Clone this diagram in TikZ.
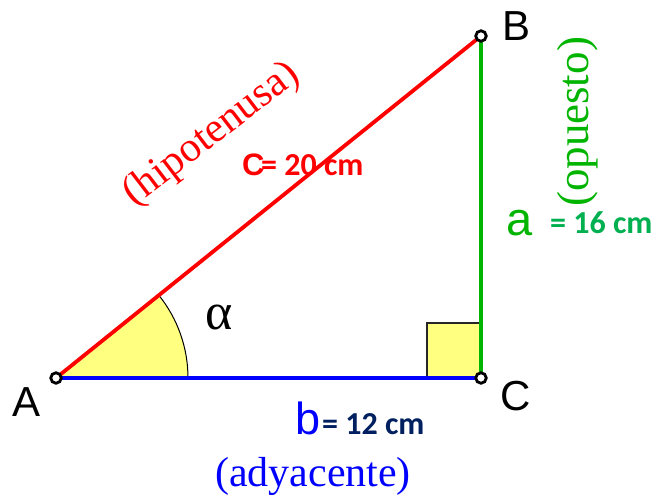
\documentclass[tikz,border=0pt]{standalone}
\usepackage{fontspec}
\setmainfont{Liberation Serif}
\newfontfamily\arialfont{Liberation Sans}
\newfontfamily\calibrifont{Carlito}
\usepackage{tikz}
\usetikzlibrary{positioning, calc}

\definecolor{hipred}{RGB}{255,0,0}
\definecolor{opgreen}{RGB}{0,180,0}
\definecolor{valgreen}{RGB}{0,176,80}
\definecolor{adblue}{RGB}{0,0,255}
\definecolor{valnavy}{RGB}{0,32,96}
\definecolor{angyellow}{RGB}{255,255,128}

\begin{document}
\begin{tikzpicture}[x=1pt, y=1pt,
    side/.style={line width=3.8pt},
    vertex/.style={circle, draw=black, fill=white, line width=2.8pt, inner sep=0pt, minimum size=10.5pt},
    letter/.style={font=\arialfont\fontsize{42}{42}\selectfont},
    role/.style={font=\fontsize{42}{42}\selectfont},
    value/.style={font=\calibrifont\bfseries\fontsize{32}{32}\selectfont, anchor=base west, inner sep=0pt}]
    \useasboundingbox (0,0) rectangle (652,499);

    % Vertices of the triangle
    \coordinate (A) at (56,121);
    \coordinate (B) at (481,463);
    \coordinate (C) at (481,121);

    % Angle alpha (yellow sector) and right angle square
    \fill[angyellow] (A) -- ++(0:132) arc (0:38.82:132) -- cycle;
    \draw[line width=1pt] ($(A)+(0:132)$) arc (0:38.82:132);
    \filldraw[fill=angyellow, draw=black!85, line width=1.3pt] ($(C)+(-54,0)$) rectangle ($(C)+(0,55)$);

    % Sides
    \draw[side, hipred] (A) -- (B);
    \draw[side, opgreen] (C) -- (B);
    \draw[side, adblue] (A) -- (C);

    % Vertex dots
    \node[vertex] at (A) {};
    \node[vertex] at (B) {};
    \node[vertex] at (C) {};

    % Vertex letters
    \node[letter] (labA) at (27,97) {A};
    \node[letter] (labB) at (516,473) {B};
    \node[letter] (labC) at (516,103) {C};
    \node[font=\fontsize{52}{52}\selectfont] (alpha) at (219,182) {α};

    % Hypotenuse c
    \node[role, hipred, rotate=37.5] (hipo) at (212,364) {(hipotenusa)};
    \node[anchor=base west, inner sep=0pt, hipred, font=\arialfont\bfseries\fontsize{31}{31}\selectfont] (cc) at (242,324) {C};
    \node[value, hipred] (cval) at (261,324) {= 20 cm};

    % Opposite side a
    \node[role, opgreen, rotate=90, font=\fontsize{45}{45}\selectfont] (opu) at (578,377) {(opuesto)};
    \node[anchor=base west, inner sep=0pt, opgreen, font=\arialfont\fontsize{47}{47}\selectfont] (aa) at (506,264) {a};
    \node[value, valgreen] (aval) at (550,266) {= 16 cm};

    % Adjacent side b
    \node[anchor=base west, inner sep=0pt, adblue, font=\arialfont\fontsize{45}{45}\selectfont] (bb) at (295,65) {b};
    \node[value, valnavy] (bval) at (322,65) {= 12 cm};
    \node[role, adblue] (ady) at (313,23) {(adyacente)};

\end{tikzpicture}
\end{document}
